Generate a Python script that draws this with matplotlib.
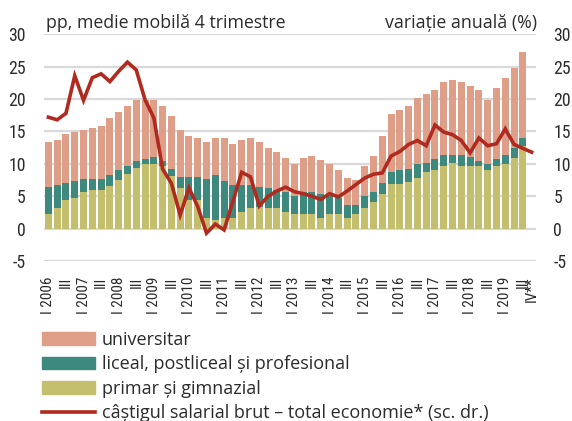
import numpy as np
import matplotlib
matplotlib.use("Agg")
import matplotlib.pyplot as plt
import matplotlib.transforms as mtransforms
from matplotlib import font_manager
from matplotlib.font_manager import FontProperties
from matplotlib.patches import Patch
from matplotlib.lines import Line2D

# stacked contributions (pp), 2006 Q1 .. 2019 Q3
primar = [2.3, 3.2, 4.4, 4.7, 5.6, 5.9, 5.9, 6.6, 7.5, 8.4, 9.3, 9.9, 9.9, 9.6,
          8.2, 6.3, 4.4, 4.4, 1.7, 1.4, 1.6, 1.7, 2.5, 3.2, 3.3, 3.2, 3.2, 2.5,
          2.2, 2.2, 2.2, 1.6, 2.2, 2.2, 1.6, 2.2, 3.2, 4.1, 5.3, 6.9, 6.9, 7.2,
          7.8, 8.7, 9.0, 9.7, 10.2, 9.7, 9.7, 9.7, 9.1, 9.7, 10.0, 10.9, 12.7]
liceal_top = [6.5, 6.8, 7.1, 7.4, 7.7, 7.7, 7.7, 8.3, 9.0, 9.6, 10.4, 10.8, 11.1, 10.4,
              9.2, 8.0, 8.0, 8.0, 7.7, 8.3, 7.4, 6.8, 6.8, 6.8, 6.5, 6.2, 5.9, 5.6,
              5.0, 5.6, 5.6, 5.3, 5.0, 4.7, 3.7, 3.7, 5.0, 5.6, 7.1, 8.7, 9.0, 9.2,
              9.9, 10.2, 10.8, 11.4, 11.4, 11.4, 11.1, 10.5, 9.9, 10.8, 11.4, 12.4, 14.0]
total = [13.4, 13.7, 14.6, 14.9, 15.2, 15.5, 15.8, 17.1, 18.0, 18.9, 19.9, 19.9, 19.9, 18.9,
         17.4, 15.2, 14.3, 14.0, 13.4, 14.0, 14.0, 13.0, 13.7, 14.0, 13.3, 12.4, 11.8, 10.9,
         10.0, 10.9, 11.2, 10.6, 10.0, 9.0, 7.8, 7.5, 9.7, 11.2, 14.3, 17.7, 18.3, 18.9,
         20.2, 20.8, 21.4, 22.6, 22.9, 22.6, 22.0, 21.4, 19.9, 21.7, 23.3, 24.8, 27.3]

# gross wage, annual change (%), 2006 Q1 .. 2019 Q4
castig = [17.2, 16.8, 17.8, 23.6, 19.8, 23.3, 23.9, 22.7, 24.3, 25.7, 24.5, 19.9, 17.1, 9.2,
          7.0, 2.1, 6.3, 3.4, -0.7, 0.7, -0.2, 4.2, 8.7, 8.0, 3.5, 5.0, 5.8, 6.4,
          5.7, 5.4, 5.0, 4.5, 5.4, 4.9, 5.8, 6.8, 7.8, 8.4, 8.6, 11.2, 11.9, 13.0,
          13.6, 12.8, 16.0, 14.9, 14.5, 13.6, 11.7, 14.0, 12.8, 13.1, 15.4, 13.0, 12.4, 11.8]

tick_labels = []
for yr in range(2006, 2020):
    tick_labels += ["I " + str(yr), "", "III", ""]
tick_labels[-1] = "IV**"

liceal = np.array(liceal_top) - np.array(primar)
univ = np.array(total) - np.array(liceal_top)

c_univ = "#DE9E87"
c_lic = "#3D897D"
c_prim = "#C3BF6F"
c_line = "#B02A1F"
c_text = "#2B2B2B"
c_grid = "#D9D9D9"

plt.rcParams["axes.unicode_minus"] = False
plain = ["Open Sans", "DejaVu Sans"]

# look for a condensed face for the tick labels (the original uses a narrow font)
narrow_path = None
for pref in ["Liberation Sans Narrow", "Noto Sans", "Roboto", "Open Sans", "DejaVu Sans"]:
    for f in font_manager.fontManager.ttflist:
        is_narrow = f.stretch in ("condensed", "semi-condensed") or "Narrow" in f.name \
            or "Condensed" in f.name
        if f.name.startswith(pref) and is_narrow and f.style == "normal" \
                and f.weight in (400, "normal", "regular"):
            narrow_path = f.fname
            break
    if narrow_path:
        break

def tick_font(size):
    if narrow_path:
        return FontProperties(fname=narrow_path, size=size)
    return FontProperties(family="Liberation Sans", size=size * 0.88)

fig = plt.figure(figsize=(5.72, 4.21), dpi=100)
ax = fig.add_axes([44 / 572, 1 - 261 / 421, 492 / 572, (261 - 34.3) / 421])

n_bars = len(primar)
x = np.arange(n_bars)
ax.bar(x, primar, width=0.8, color=c_prim, zorder=2)
ax.bar(x, liceal, width=0.8, bottom=primar, color=c_lic, zorder=2)
ax.bar(x, univ, width=0.8, bottom=liceal_top, color=c_univ, zorder=2)

ax2 = ax.twinx()
ax2.plot(np.arange(len(castig)), castig, color=c_line, linewidth=2.6, zorder=3,
         solid_joinstyle="miter")

for a in (ax, ax2):
    a.set_ylim(-5, 30)
    a.set_yticks(np.arange(-5, 31, 5))
    for s in a.spines.values():
        s.set_visible(False)
    a.tick_params(length=0, colors=c_text)

ax.set_xlim(-0.5, len(castig) - 0.5)
ax.yaxis.grid(True, color=c_grid, linewidth=1.6, zorder=0)
ax.set_axisbelow(True)
ax.set_xticks(np.arange(len(castig)))
ax.set_xticklabels(tick_labels, rotation=90, color=c_text)
for lab in ax.get_xticklabels():
    lab.set_fontproperties(tick_font(11))
# nudge the last label (IV**) a little so it does not touch "III"
last = ax.get_xticklabels()[-1]
last.set_transform(last.get_transform() +
                   mtransforms.ScaledTranslation(2 / 100, 0, fig.dpi_scale_trans))
ax.tick_params(axis="x", pad=11)
ax.tick_params(axis="y", pad=13)
ax2.tick_params(axis="y", pad=12.5)
for lab in ax.get_yticklabels() + ax2.get_yticklabels():
    lab.set_fontproperties(tick_font(12.8))

fig.text(46 / 572, 1 - 28 / 421, "pp, medie mobilă 4 trimestre", family=plain,
         fontsize=12.8, color=c_text, va="baseline", ha="left")
fig.text(537 / 572, 1 - 28 / 421, "variație anuală (%)", family=plain,
         fontsize=12.8, color=c_text, va="baseline", ha="right")

handles = [Patch(color=c_univ), Patch(color=c_lic), Patch(color=c_prim),
           Line2D([0], [0], color=c_line, linewidth=2.6)]
labels = ["universitar", "liceal, postliceal și profesional", "primar și gimnazial",
          "câștigul salarial brut – total economie* (sc. dr.)"]
fig.legend(handles, labels, loc="upper left", bbox_to_anchor=(42 / 572, 1 - 331 / 421),
           frameon=False, borderpad=0, borderaxespad=0, handlelength=2.93,
           handleheight=0.72, handletextpad=0.38, labelspacing=0.35,
           prop={"family": plain, "size": 13}, labelcolor=c_text)

fig.savefig("out.png", dpi=100)
